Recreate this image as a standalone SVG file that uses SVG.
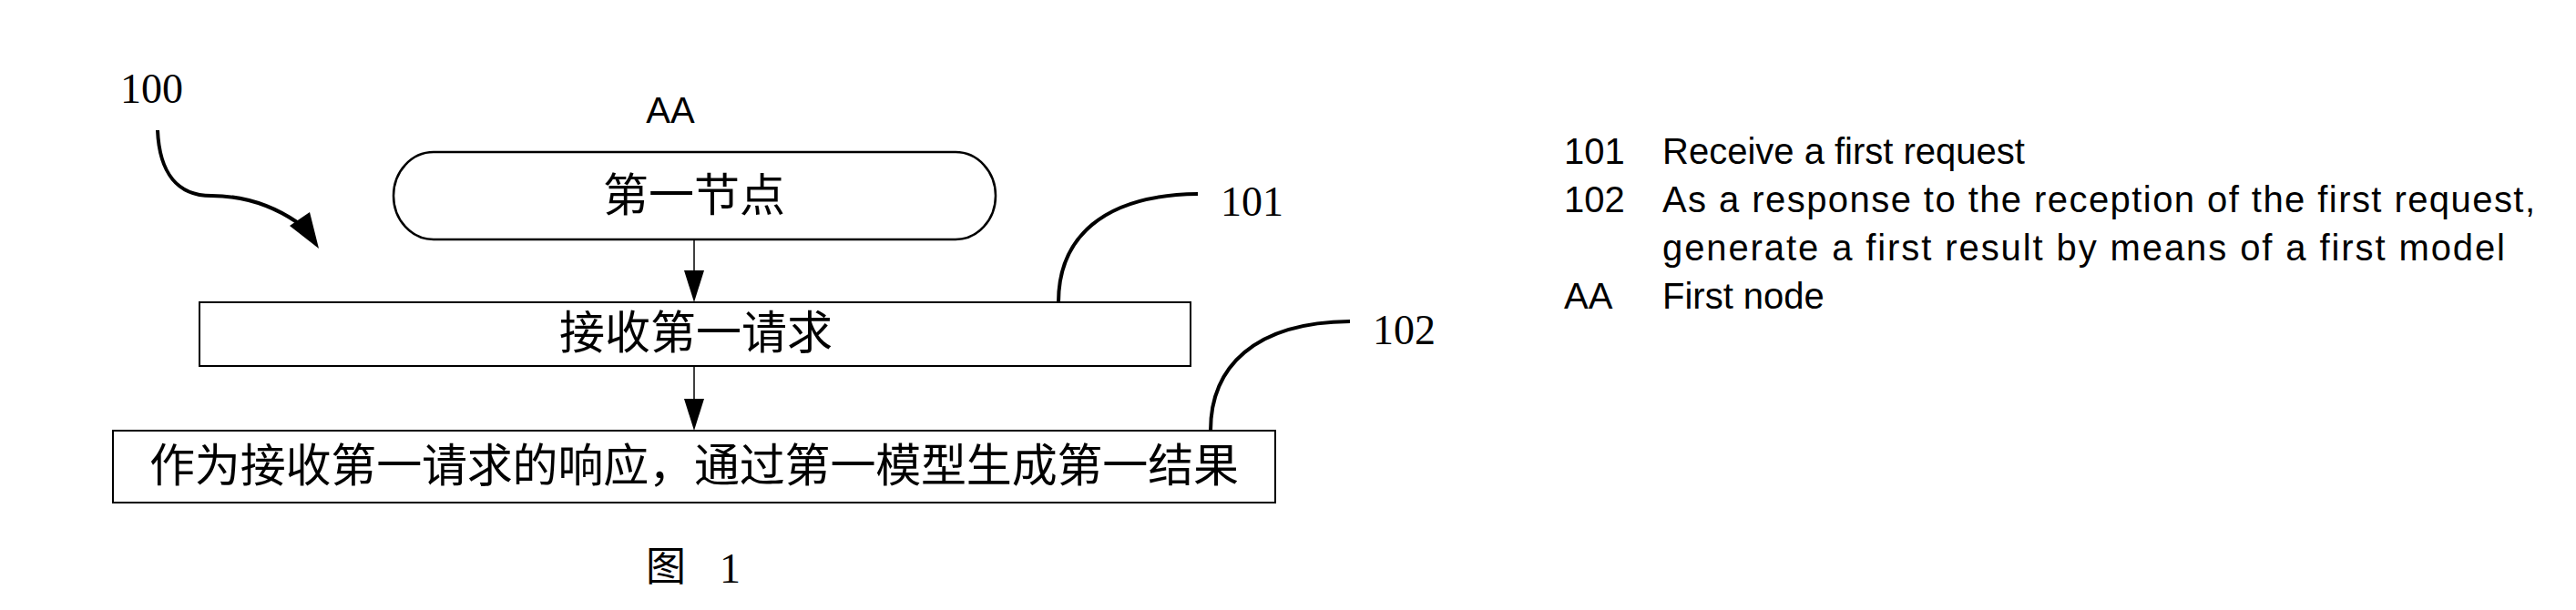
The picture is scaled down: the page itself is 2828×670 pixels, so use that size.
<svg xmlns="http://www.w3.org/2000/svg" width="2828" height="670" viewBox="0 0 2828 670">
<style>
.bg{fill:#fff}
.box{fill:#fff;stroke:#000;stroke-width:2}
.term{fill:#fff;stroke:#000;stroke-width:2.5}
.conn{stroke:#000;stroke-width:1.5;fill:none}
.lead{stroke:#000;stroke-width:4;fill:none}
.head{fill:#000}
.cjk{font-family:"Noto Sans CJK SC","Liberation Serif",sans-serif;font-size:50px;fill:#000}
.num{font-family:"Liberation Serif",serif;font-size:46px;fill:#000}
.sans{font-family:"Liberation Sans",Arial,sans-serif;font-size:40px;fill:#000}
</style>
<rect class="bg" x="0" y="0" width="2828" height="670"/>
<g id="ref-100">
<text class="num" x="132" y="113">100</text>
<path class="lead" d="M173,143 C175,190 195,215 232,215 C268,215 298,225 326,244"/>
<polygon class="head" points="318,248 340,233 350,273"/>
</g>
<g id="node-AA">
<text class="sans" x="736" y="135" text-anchor="middle">AA</text>
<rect class="term" x="432" y="167" width="661" height="96" rx="44" ry="48"/>
<text class="cjk" x="762" y="232" text-anchor="middle">第一节点</text>
</g>
<g id="node-101">
<rect class="box" x="219" y="332" width="1088" height="70"/>
<text class="cjk" x="764" y="383" text-anchor="middle">接收第一请求</text>
</g>
<g id="node-102">
<rect class="box" x="124" y="473" width="1276" height="79"/>
<text class="cjk" x="164" y="529" textLength="1196">作为接收第一请求的响应，通过第一模型生成第一结果</text>
</g>
<g id="connectors">
<line class="conn" x1="762" y1="263" x2="762" y2="298"/>
<polygon class="head" points="751,297 773,297 762,332"/>
<line class="conn" x1="762" y1="402" x2="762" y2="439"/>
<polygon class="head" points="751,438 773,438 762,473"/>
</g>
<g id="label-101">
<path class="lead" d="M1162,332 C1162,262 1210,214 1315,213"/>
<text class="num" x="1340" y="237">101</text>
</g>
<g id="label-102">
<path class="lead" d="M1329,473 C1329,403 1377,354 1482,353"/>
<text class="num" x="1507" y="378">102</text>
</g>
<g id="caption">
<text class="cjk" x="709" y="638" style="font-size:44px">图</text>
<text class="num" x="790" y="640">1</text>
</g>
<g id="legend">
<text class="sans" x="1717" y="180">101</text>
<text class="sans" x="1825" y="180">Receive a first request</text>
<text class="sans" x="1717" y="233">102</text>
<text class="sans" x="1825" y="233" textLength="958">As a response to the reception of the first request,</text>
<text class="sans" x="1825" y="286" textLength="925">generate a first result by means of a first model</text>
<text class="sans" x="1717" y="339">AA</text>
<text class="sans" x="1825" y="339">First node</text>
</g>
</svg>
